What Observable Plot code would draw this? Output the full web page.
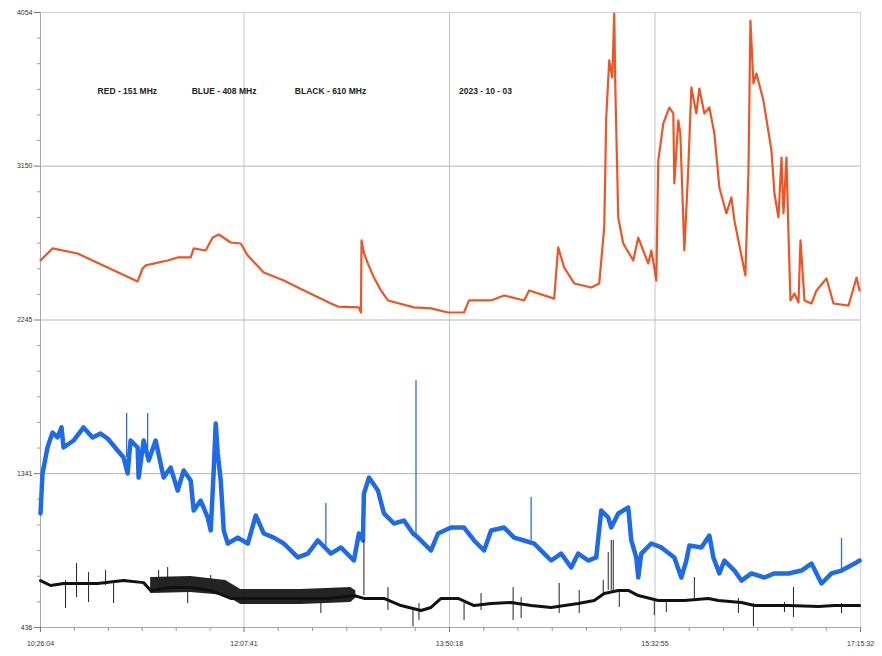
<!DOCTYPE html>
<html>
<head>
<meta charset="utf-8">
<script src="https://cdn.jsdelivr.net/npm/d3@7"></script>
<script src="https://cdn.jsdelivr.net/npm/@observablehq/plot@0.6"></script>
<style>
  html, body { margin: 0; padding: 0; background: #fff; }
  #chart { width: 882px; height: 656px; }
</style>
</head>
<body>
<div id="chart"></div>
<script>
// ---- tick labels ----
const xTickLabels = ["10:26:04", "12:07:41", "13:50:18", "15:32:55", "17:15:32"];
const yTicks = [436, 1341, 2245, 3150, 4054];

// ---- annotations ----
const legendTexts = ["RED - 151 MHz", "BLUE - 408 MHz", "BLACK - 610 MHz", "2023 - 10 - 03"];
const legendMinutes = [28.5, 75.5, 127, 209];
const legendValue = 3589;

// ---- series: [minutes since 10:26:04, flux] ----
const red151 = [
  [0,2595],[6,2666],[18.5,2636],[48.5,2472],[51,2548],[52.5,2566],[63.5,2595],[68.5,2613],
  [75,2613],[76.5,2666],[82.5,2654],[86,2730],[89,2748],[95,2701],[100,2695],[103.5,2624],
  [111.5,2524],[121.5,2477],[128.5,2436],[145,2342],[148.5,2324],[159,2319],[160,2289],
  [160.3,2713],[161.5,2640],[163.5,2577],[166.5,2495],[170,2419],[173.5,2360],[186.5,2319],
  [195,2313],[203.5,2289],
  [211.5,2289],[214,2360],[225,2360],[231.5,2389],[241.5,2360],[244,2419],[256.5,2371],
  [258.5,2672],[261.5,2554],[266.5,2460],[275,2436],[279,2460],[281.5,2789],[282.5,3436],
  [284,3772],[285.5,3672],[286.5,4048],[287,3636],[288.5,2848],[291,2695],[296,2595],
  [298.5,2730],[303.5,2577],[305,2654],[306.5,2554],[307.5,2477],[308.5,3183],[311,3401],
  [314,3495],[316,3460],[316.5,3048],[318.5,3419],[319.5,3342],[321.5,2654],[323.5,3142],
  [325,3613],[327.5,3460],[329,3607],[331.5,3460],[334,3495],[336.5,3342],[339,3024],
  [342.5,2872],[345,2966],[346.5,2830],[352,2507],[353.5,3107],[354.5,4007],[356,3636],
  [357.5,3695],[361,3536],[365,3242],[366.5,2989],[368.5,2848],[370,3201],[371,2872],
  [372.5,3201],[373.5,2754],[374.5,2360],[376.5,2401],[378.5,2348],[379.5,2713],[381.5,2360],
  [385,2342],[387.5,2419],[392.5,2489],[396,2342],[403.5,2330],[407.5,2495],[409,2419]
];

const blue408 = [
  [0,1107],[1,1342],[3.5,1495],[6,1583],[8.5,1554],[10.5,1613],[11.5,1495],[16.5,1536],
  [21.5,1613],[26,1554],[30,1577],[33.5,1548],[38.5,1477],[41.5,1436],[43.5,1342],
  [45,1536],[48.5,1495],[49,1318],[51.5,1536],[54,1418],[57.5,1536],[61.5,1318],
  [65,1377],[68.5,1242],[71.5,1360],[75,1301],[76.5,1124],[80,1183],[83.5,1083],[85,1007],
  [86.5,1360],[87.5,1636],[88.5,1460],[90,1301],[91.5,1007],[93.5,930],[98.5,965],[103.5,930],
  [107.5,1095],[111.5,989],[116.5,965],[121.5,930],[128.5,848],[133.5,871],[138.5,948],
  [143.5,889],[145,871],[150,907],[156.5,830],[159,989],[161,948],[161.5,1224],
  [164,1318],[168.5,1242],[171.5,1107],[176.5,1048],[181.5,1065],[186,989],
  [188.5,965],[195,889],[198.5,989],[205,1024],[211.5,1024],[216.5,948],[221.5,889],[225,1007],
  [231.5,1024],[236.5,965],[241.5,948],[246.5,930],[251.5,871],[255,830],[260,871],
  [265,789],[268.5,871],[273.5,830],[277.5,848],[280,1124],[283.5,1083],[285,1024],[288.5,1107],
  [293.5,1142],[295,948],[297.5,848],[298.5,730],[300,871],[305,930],[310,907],[316.5,848],
  [320,730],[322.5,830],[324,918],[330,907],[334,977],[336,848],[339,754],[341.5,830],
  [346.5,771],[350,712],[355,754],[361.5,730],[366.5,754],[373.5,754],[380,771],[385,812],
  [390,695],[395,754],[400,771],[406.5,812],[409,830]
];

// narrow spikes on the 408 MHz trace: [minutes, from, to]
const blue408Spikes = [
  [43,1436,1695],[53.5,1418,1695],[142.5,889,1165],[187.5,965,1889],[245,948,1201],[400,771,960]
];

const black610 = [
  [0,712],[5,683],[11.5,695],[28.5,695],[41.5,712],[51.5,700],[55,654],[65,671],[75,671],
  [85,654],[95,607],[111.5,607],[128.5,607],[143.5,607],[156.5,624],[161.5,607],[171.5,607],
  [180,565],[190,536],[195,554],[200,607],[208.5,607],[216.5,565],[225,577],[235,583],
  [245,565],[255,554],[268.5,577],[276.5,595],[281.5,636],[288.5,654],[293.5,654],[298.5,624],
  [308.5,595],[321.5,595],[333.5,607],[338.5,595],[350,583],[356.5,565],[373.5,565],
  [388.5,560],[396.5,565],[409,565]
];

// noisy envelope of the 610 MHz trace: [minutes, upper, lower]
const black610Band = [
  [55,730,636],[75,736,642],[92.5,712,624],[100,660,571],[130,660,571],[155,671,583],[157.5,650,610]
];

// isolated interference spikes on the 610 MHz trace: [minutes, from, to]
const black610Spikes = [
  [12.5,712,548],[18,812,612],[24,759,583],[32.5,771,683],[36.5,695,577],[59,771,636],
  [63.5,789,695],[73.5,654,577],[85,742,636],[140,595,518],[161.5,948,624],[173.5,671,536],
  [186,554,440],[189,577,477],[211.5,577,477],[220,636,536],[236,671,477],[240,612,489],
  [259,695,518],[269,654,518],[281,712,636],[283.5,877,654],[285,948,654],[286,948,654],
  [289,654,554],[306.5,595,506],[312.5,595,524],[326.5,730,607],[348.5,607,518],[356,577,440],
  [371.5,583,524],[376,671,495],[400,577,518]
];

// ---- scales / ticks ----
const toMin = s => { const [h, m, sec] = s.split(":").map(Number); return h * 60 + m + sec / 60; };
const t0 = toMin(xTickLabels[0]);
const xTicks = xTickLabels.map(s => toMin(s) - t0);
const xMinor = [];
for (let i = 0; i < xTicks.length - 1; i++)
  for (let k = 1; k < 6; k++) xMinor.push(xTicks[i] + (xTicks[i + 1] - xTicks[i]) * k / 6);
const yMinor = [];
for (let i = 0; i < yTicks.length - 1; i++)
  for (let k = 1; k < 6; k++) yMinor.push(yTicks[i] + (yTicks[i + 1] - yTicks[i]) * k / 6);

const legend = legendTexts.map((t, i) => ({t, x: legendMinutes[i], y: legendValue}));

const chart = Plot.plot({
  width: 882,
  height: 656,
  marginLeft: 40,
  marginRight: 22,
  marginTop: 12,
  marginBottom: 29,
  x: {domain: [0, xTicks[xTicks.length - 1]], axis: null},
  y: {domain: [yTicks[0], yTicks[yTicks.length - 1]], axis: null},
  style: {fontFamily: "'Liberation Sans', Arial, sans-serif", background: "#fff", color: "#333"},
  marks: [
    Plot.gridY(yTicks, {stroke: "#b5b5b5", strokeOpacity: 1}),
    Plot.gridX(xTicks, {stroke: "#c4c4c4", strokeOpacity: 1}),
    Plot.frame({stroke: "#d4d4d4"}),
    Plot.ruleX([0], {stroke: "#aaa"}),
    Plot.ruleY([yTicks[0]], {stroke: "#aaa"}),
    Plot.axisY(yTicks, {label: null, tickSize: 6, tickPadding: 2, fontSize: 7, tickFormat: d => String(d), stroke: "#777"}),
    Plot.axisY(yMinor, {label: null, tickSize: 3, tickFormat: () => "", stroke: "#999"}),
    Plot.axisX(xTicks, {label: null, tickSize: 5, tickPadding: 9, fontSize: 7, stroke: "#777",
      tickFormat: d => xTickLabels[xTicks.indexOf(d)]}),
    Plot.axisX(xMinor, {label: null, tickSize: 4, tickFormat: () => "", stroke: "#999"}),
    Plot.text(legend, {x: "x", y: "y", text: "t", textAnchor: "start", fontSize: 8.5,
      fontWeight: "bold", fill: "#222", style: "letter-spacing:0.6px"}),
    Plot.lineY(red151, {x: d => d[0], y: d => d[1], stroke: "#ee5526", strokeWidth: 2.2, curve: "linear"}),
    Plot.ruleX(blue408Spikes, {x: d => d[0], y1: d => d[1], y2: d => d[2], stroke: "#2a6fd8", strokeWidth: 1.3}),
    Plot.lineY(blue408, {x: d => d[0], y: d => d[1], stroke: "#1f6ae6", strokeWidth: 4.5, curve: "linear", strokeLinejoin: "round"}),
    Plot.areaY(black610Band, {x: d => d[0], y1: d => d[1], y2: d => d[2], fill: "#111", fillOpacity: 0.92, curve: "linear"}),
    Plot.ruleX(black610Spikes, {x: d => d[0], y1: d => d[1], y2: d => d[2], stroke: "#222", strokeWidth: 1}),
    Plot.lineY(black610, {x: d => d[0], y: d => d[1], stroke: "#111", strokeWidth: 3, curve: "linear"})
  ]
});
document.getElementById("chart").appendChild(chart);
</script>
</body>
</html>
